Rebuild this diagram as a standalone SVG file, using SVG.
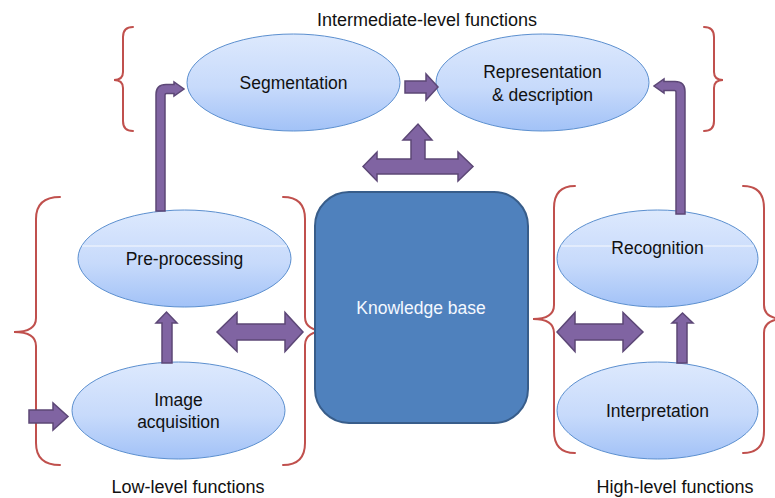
<svg xmlns="http://www.w3.org/2000/svg" width="775" height="498" viewBox="0 0 775 498">
  <defs>
    <linearGradient id="nodeFill" x1="0" y1="0" x2="0" y2="1">
      <stop offset="0" stop-color="#dde9fd"/>
      <stop offset="0.55" stop-color="#c7dafb"/>
      <stop offset="1" stop-color="#a2c2f7"/>
    </linearGradient>
  </defs>
  <style>
    .node ellipse { fill: url(#nodeFill); stroke: #5b8fcf; stroke-width: 1; }
    .label { font-family: "Liberation Sans", Arial, sans-serif; font-size: 17.5px; fill: #111; text-anchor: middle; }
    .caption { font-family: "Liberation Sans", Arial, sans-serif; font-size: 18px; fill: #111; text-anchor: middle; }
    .brace { fill: none; stroke: #c0504d; stroke-width: 2; stroke-linecap: round; }
    .arrow { fill: #8064a2; stroke: #5c4776; stroke-width: 1.5; stroke-linejoin: miter; }
    .gleam { stroke: #ffffff; stroke-width: 1; opacity: 0.85; }
  </style>

  <rect width="775" height="498" fill="#ffffff"/>

  <!-- group captions -->
  <text class="caption" x="427" y="26">Intermediate-level functions</text>
  <text class="caption" x="188" y="493">Low-level functions</text>
  <text class="caption" x="675" y="493">High-level functions</text>

  <!-- curly braces around each level -->
  <g id="braces">
    <path class="brace" d="M133,27 Q123,27 123,37 L123,72 Q123,80 114,80 Q123,80 123,88 L123,121 Q123,131 133,131"/>
    <path class="brace" d="M704,27 Q714,27 714,37 L714,72 Q714,80 723,80 Q714,80 714,88 L714,121 Q714,131 704,131"/>
    <path class="brace" d="M60,197 Q36,197 36,219 L36,318 Q36,332 14,332 Q36,332 36,346 L36,443 Q36,465 60,465"/>
    <path class="brace" d="M283,197 Q305,197 305,219 L305,317 Q305,331 327,331 Q305,331 305,345 L305,443 Q305,465 283,465"/>
    <path class="brace" d="M575,186 Q554,186 554,208 L554,305 Q554,319 533,319 Q554,319 554,333 L554,431 Q554,453 575,453"/>
    <path class="brace" d="M743,186 Q764,186 764,208 L764,305 Q764,319 785,319 Q764,319 764,333 L764,431 Q764,453 743,453"/>
  </g>

  <!-- central knowledge store -->
  <g id="knowledge-base">
    <rect x="315" y="192" width="213" height="231" rx="34" ry="34" fill="#4f81bd" stroke="#385d8a" stroke-width="2"/>
    <text class="label" x="421" y="314" style="fill:#f4f8ff">Knowledge base</text>
  </g>

  <g id="segmentation" class="node">
    <ellipse cx="293.5" cy="82.5" rx="106.5" ry="48.5"/>
    <text class="label" x="293.5" y="89">Segmentation</text>
  </g>

  <g id="representation" class="node">
    <ellipse cx="542.5" cy="82.5" rx="106.5" ry="48.5"/>
    <text class="label" x="542.5" y="78">Representation</text>
    <text class="label" x="542.5" y="101">&amp; description</text>
  </g>

  <g id="pre-processing" class="node">
    <ellipse cx="184.5" cy="258.5" rx="106.5" ry="48.5"/>
    <line class="gleam" x1="82" y1="246" x2="287" y2="246"/>
    <text class="label" x="184.5" y="265">Pre-processing</text>
  </g>

  <g id="image-acquisition" class="node">
    <ellipse cx="178.5" cy="410.5" rx="106.5" ry="48.5"/>
    <text class="label" x="178.5" y="406">Image</text>
    <text class="label" x="178.5" y="428">acquisition</text>
  </g>

  <g id="recognition" class="node">
    <ellipse cx="657.5" cy="258.5" rx="100.5" ry="48.5"/>
    <line class="gleam" x1="561" y1="246" x2="754" y2="246"/>
    <text class="label" x="657.5" y="254">Recognition</text>
  </g>

  <g id="interpretation" class="node">
    <ellipse cx="657.5" cy="410.5" rx="100.5" ry="48.5"/>
    <text class="label" x="657.5" y="417">Interpretation</text>
  </g>

  <!-- block arrows between stages -->
  <g id="connectors">
    <!-- input into image acquisition -->
    <path class="arrow" d="M29,410 L53,410 L53,403 L68,416.5 L53,430 L53,423 L29,423 Z"/>
    <!-- image acquisition to pre-processing -->
    <path class="arrow" d="M162,363 L162,323 L156,323 L166.5,312 L177,323 L172,323 L172,363 Z"/>
    <!-- pre-processing up to segmentation -->
    <path class="arrow" d="M156,211 L156,94.5 Q156,84.5 166,84.5 L174,84.5 L174,82 L184,89 L174,96 L174,93.5 L166.5,93.5 Q165,93.5 165,95 L165,211 Z"/>
    <!-- segmentation to representation -->
    <path class="arrow" d="M405,81 L426,81 L426,74 L438,87 L426,100 L426,93 L405,93 Z"/>
    <!-- knowledge base three-way link -->
    <path class="arrow" d="M363,166.5 L377,152 L377,159 L411,159 L411,140 L403,140 L418,124 L432,140 L425,140 L425,159 L458,159 L458,152 L473,166.5 L458,181 L458,174 L377,174 L377,181 Z"/>
    <!-- recognition up to representation -->
    <path class="arrow" d="M685,214 L685,91.5 Q685,81.5 675,81.5 L664,81.5 L664,79 L654,86 L664,93 L664,90.5 L674.5,90.5 Q676,90.5 676,92 L676,214 Z"/>
    <!-- interpretation to recognition -->
    <path class="arrow" d="M677,363 L677,323 L672,323 L682.5,313 L693,323 L687,323 L687,363 Z"/>
    <!-- low level to knowledge base -->
    <path class="arrow" d="M217,332 L237,312.5 L237,324 L285,324 L285,312.5 L303,332 L285,351.5 L285,340 L237,340 L237,351.5 Z"/>
    <!-- knowledge base to high level -->
    <path class="arrow" d="M557,332 L575,312.5 L575,324 L623,324 L623,312.5 L643,332 L623,351.5 L623,340 L575,340 L575,351.5 Z"/>
  </g>
</svg>
